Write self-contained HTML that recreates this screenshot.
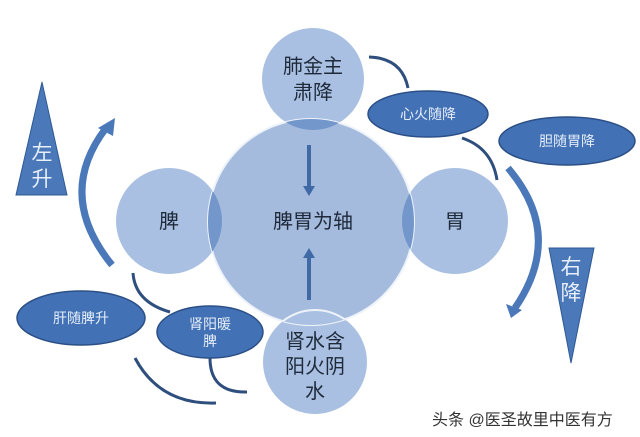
<!DOCTYPE html>
<html><head><meta charset="utf-8"><style>
html,body{margin:0;padding:0;background:#fff;}
svg{display:block;}
text{font-family:"Liberation Sans","Noto Sans CJK SC",sans-serif;}
</style></head><body>
<svg width="640" height="437" viewBox="0 0 640 437" xmlns="http://www.w3.org/2000/svg">
<defs>
<clipPath id="cb"><circle cx="311" cy="222" r="103"/></clipPath>
</defs>
<rect width="640" height="437" fill="#fff"/>
<circle cx="313" cy="79" r="51" fill="#a9c0e2"/>
<circle cx="169" cy="221" r="53" fill="#a9c0e2"/>
<circle cx="455" cy="221" r="53" fill="#a9c0e2"/>
<circle cx="315" cy="362" r="52" fill="#a9c0e2"/>
<circle cx="311" cy="222" r="103" fill="#a5bbde" stroke="#eef3fa" stroke-width="2"/>
<g clip-path="url(#cb)" fill="#7497cb">
<circle cx="313" cy="79" r="51"/>
<circle cx="169" cy="221" r="53"/>
<circle cx="455" cy="221" r="53"/>
<circle cx="315" cy="362" r="52" fill="#a9c0e2" stroke="#eef3fa" stroke-width="2"/>
</g>
<line x1="309" y1="145" x2="309" y2="186" stroke="#3f6aa6" stroke-width="4"/>
<path d="M303,186 L315,186 L309,196 z" fill="#3f6aa6"/>
<line x1="309" y1="300" x2="309" y2="258" stroke="#3f6aa6" stroke-width="4"/>
<path d="M303,258 L315,258 L309,248 z" fill="#3f6aa6"/>
<path d="M42,82 L67,195 L16,195 z" fill="#4a78b8" stroke="#2f5a95"/>
<path d="M549,248 L594,248 L571,363 z" fill="#4a78b8" stroke="#2f5a95"/>
<text x="42" y="160" font-size="21" fill="#e8f0fb" text-anchor="middle">左</text>
<text x="42" y="186" font-size="21" fill="#e8f0fb" text-anchor="middle">升</text>
<text x="571" y="274" font-size="21" fill="#e8f0fb" text-anchor="middle">右</text>
<text x="571" y="300" font-size="21" fill="#e8f0fb" text-anchor="middle">降</text>
<path d="M112,265 Q55,195 106,128" fill="none" stroke="#4a78b8" stroke-width="7"/>
<path d="M98,128 L115,118 L113,136 z" fill="#4a78b8"/>
<path d="M508,168 Q565,235 515,308" fill="none" stroke="#4a78b8" stroke-width="7"/>
<path d="M506,304 L511,318 L522,310 z" fill="#4a78b8"/>
<g fill="none" stroke="#2e4e7e" stroke-width="3">
<path d="M369,57 Q402,58 408,88"/>
<path d="M497,180 Q492,148 462,138"/>
<path d="M133,273 Q135,302 170,312"/>
<path d="M135,358 Q160,405 216,403"/>
<path d="M210,358 Q210,393 247,392"/>
</g>
<g fill="#4272b5" stroke="#2b4f86" stroke-width="1.5">
<ellipse cx="428" cy="114" rx="60" ry="23"/>
<ellipse cx="567" cy="141" rx="68" ry="24"/>
<ellipse cx="81" cy="318" rx="64" ry="27"/>
<ellipse cx="210" cy="332" rx="53" ry="26"/>
</g>
<g font-size="14" fill="#e6eefa" text-anchor="middle">
<text x="428" y="119">心火随降</text>
<text x="567" y="146">胆随胃降</text>
<text x="81" y="323">肝随脾升</text>
<text x="210" y="329">肾阳暖</text>
<text x="210" y="346">脾</text>
</g>
<g font-size="20" fill="#1e2a3a" text-anchor="middle">
<text x="313" y="73">肺金主</text>
<text x="313" y="99">肃降</text>
<text x="169" y="228">脾</text>
<text x="313" y="228">脾胃为轴</text>
<text x="455" y="228">胃</text>
<text x="315" y="348">肾水含</text>
<text x="315" y="373">阳火阴</text>
<text x="315" y="398">水</text>
</g>
<text x="432" y="425" font-size="16" fill="#333">头条 @医圣故里中医有方</text>
</svg>
</body></html>
